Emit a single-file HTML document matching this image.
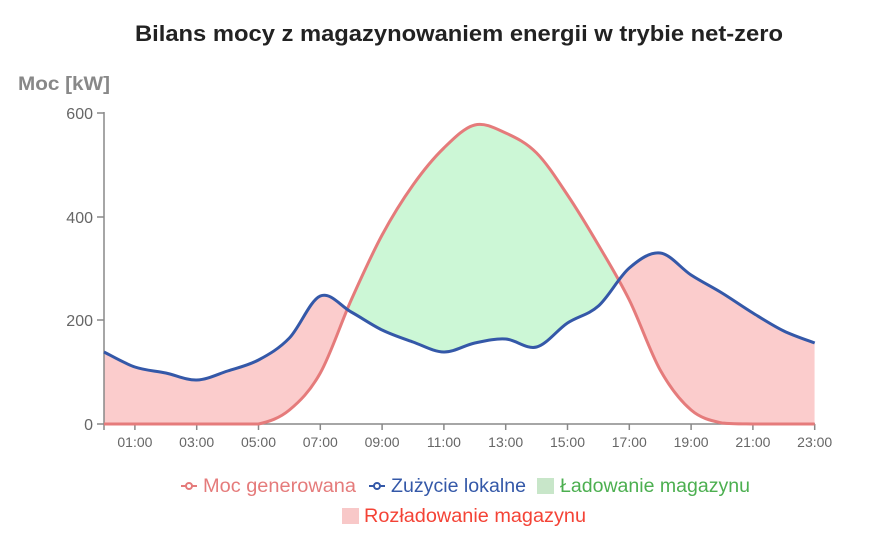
<!DOCTYPE html>
<html><head><meta charset="utf-8"><style>
body{margin:0;background:#fff;}
svg{display:block;font-family:"Liberation Sans","DejaVu Sans",sans-serif;}
</style></head><body>
<svg id="s" width="870" height="540" xmlns="http://www.w3.org/2000/svg">
<text x="135" y="41" font-size="22" font-weight="bold" fill="#222" textLength="648" lengthAdjust="spacingAndGlyphs">Bilans mocy z magazynowaniem energii w trybie net-zero</text>
<text x="18" y="90" font-size="19" font-weight="bold" fill="#888" textLength="92" lengthAdjust="spacingAndGlyphs">Moc [kW]</text>
<defs>
<clipPath id="above"><path id="ca"/></clipPath>
<clipPath id="below"><path id="cb"/></clipPath>
</defs>
<path id="pink" fill="#fbcccc" clip-path="url(#below)"/>
<path id="green" fill="#ccf7d6" clip-path="url(#above)"/>
<g stroke="#888" stroke-width="1.5">
<line x1="104" y1="112" x2="104" y2="430"/>
<line x1="104" y1="424" x2="815" y2="424"/>
<line x1="97" y1="113" x2="104" y2="113"/><line x1="97" y1="217" x2="104" y2="217"/>
<line x1="97" y1="320" x2="104" y2="320"/><line x1="97" y1="424" x2="104" y2="424"/>
</g>
<g id="xt" stroke="#888" stroke-width="1.5"></g>
<g font-size="16" fill="#666" text-anchor="end">
<text x="93" y="119">600</text><text x="93" y="223">400</text><text x="93" y="326">200</text><text x="93" y="430">0</text>
</g>
<g id="xl" font-size="14" fill="#666" text-anchor="middle"></g>
<path id="gen" fill="none" stroke="#e57b7b" stroke-width="3"/>
<path id="con" fill="none" stroke="#3458a8" stroke-width="3"/>
<g font-size="19">
<line x1="181" y1="486" x2="197" y2="486" stroke="#e57b7b" stroke-width="2"/><circle cx="189" cy="486" r="3" fill="#fff" stroke="#e57b7b" stroke-width="2"/>
<text x="203" y="492" fill="#e57b7b" textLength="153" lengthAdjust="spacingAndGlyphs">Moc generowana</text>
<line x1="369" y1="486" x2="385" y2="486" stroke="#3458a8" stroke-width="2"/><circle cx="377" cy="486" r="3" fill="#fff" stroke="#3458a8" stroke-width="2"/>
<text x="391" y="492" fill="#3458a8" textLength="135" lengthAdjust="spacingAndGlyphs">Zużycie lokalne</text>
<rect x="537" y="478" width="17" height="16" fill="#c8e6c9"/>
<text x="560" y="492" fill="#4caf50" textLength="190" lengthAdjust="spacingAndGlyphs">Ładowanie magazynu</text>
<rect x="342" y="508" width="17" height="16" fill="#f8c8c8"/>
<text x="364" y="522" fill="#f44336" textLength="222" lengthAdjust="spacingAndGlyphs">Rozładowanie magazynu</text>
</g>
</svg>
<script>
var X=function(h){return 104+30.9*h;};
var con=[352,367,373,380,371,360,338,296,312,330,342,352,343,339,347,323,306,268,253,275,293,313,331,343];
var gen=[424,424,424,424,424,424,410,373,300,235,185,148,125,133,153,195,245,300,370,410,423,424,424,424];
function pts(a){return a.map(function(y,i){return [X(i),y];});}
function cr(p){var d="";for(var i=0;i<p.length-1;i++){var p0=p[i-1]||p[i],p1=p[i],p2=p[i+1],p3=p[i+2]||p[i+1];
var c1=[p1[0]+(p2[0]-p0[0])/6,p1[1]+(p2[1]-p0[1])/6],c2=[p2[0]-(p3[0]-p1[0])/6,p2[1]-(p3[1]-p1[1])/6];
c1[1]=Math.min(c1[1],424);c2[1]=Math.min(c2[1],424);
d+=" C"+c1+" "+c2+" "+p2;}return d;}
var pc=pts(con),pg=pts(gen);
var dc="M"+pc[0]+cr(pc),dg="M"+pg[0]+cr(pg);
document.getElementById("con").setAttribute("d",dc);
document.getElementById("gen").setAttribute("d",dg);
var rc=pc.slice().reverse();
var between=dg+" L"+rc[0]+cr(rc)+" Z";
document.getElementById("pink").setAttribute("d",between);
document.getElementById("green").setAttribute("d",between);
document.getElementById("ca").setAttribute("d",dc+" L"+X(23)+",0 L"+X(0)+",0 Z");
document.getElementById("cb").setAttribute("d",dc+" L"+X(23)+",540 L"+X(0)+",540 Z");
var xt=document.getElementById("xt"),xl=document.getElementById("xl"),ns="http://www.w3.org/2000/svg";
for(var h=1;h<24;h+=2){var l=document.createElementNS(ns,"line");l.setAttribute("x1",X(h));l.setAttribute("x2",X(h));l.setAttribute("y1",424);l.setAttribute("y2",430);xt.appendChild(l);
var t=document.createElementNS(ns,"text");t.setAttribute("x",X(h));t.setAttribute("y",447);t.textContent=(h<10?"0":"")+h+":00";xl.appendChild(t);}
</script>
</body></html>
